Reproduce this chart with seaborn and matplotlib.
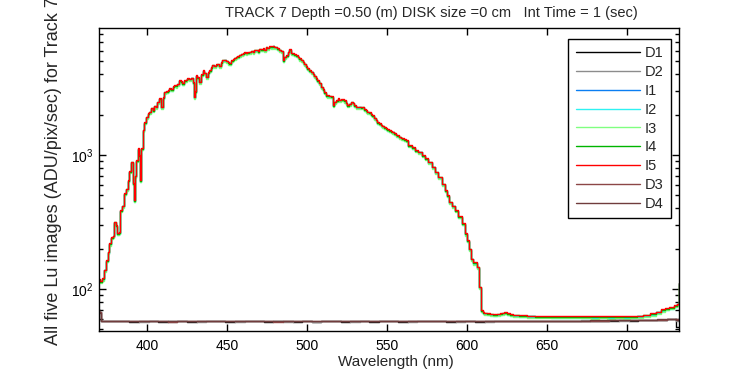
import numpy as np
import pandas as pd
import matplotlib
matplotlib.use("Agg")
import matplotlib.pyplot as plt
import seaborn as sns

# ---------------- data ----------------
series_order = ["D1", "D2", "I1", "I2", "I3", "I4", "I5", "D3", "D4"]
series_colors = ["#000000", "#8c8c8c", "#0a7ef2", "#2ef2f2", "#80ff80",
                 "#00b400", "#ff0000", "#8c4646", "#703c3c"]

# illuminated spectrum (wavelength nm, ADU/pix/sec)
spectrum = [
    (369.8, 118), (371.0, 115), (372.7, 120), (374.0, 140), (374.8, 164),
    (376.0, 190), (376.9, 219), (378.0, 245), (379.0, 250), (380.0, 318),
    (381.0, 300), (382.0, 261), (383.0, 265), (383.5, 389), (385.0, 420),
    (386.3, 518), (387.5, 560), (388.3, 650), (389.5, 760), (390.4, 891),
    (391.0, 890), (391.5, 615), (392.5, 461), (393.0, 700), (393.6, 918),
    (394.6, 1123), (395.2, 1000), (395.6, 650), (396.7, 1123), (397.7, 1540),
    (398.8, 1750), (399.8, 1932), (401.0, 2050), (401.9, 2105), (403.0, 2250),
    (404.0, 2167), (405.0, 2330), (406.0, 2292), (407.0, 2500), (408.0, 2650),
    (409.2, 2290), (410.2, 2700), (411.3, 2967), (412.5, 3000), (413.5, 3050),
    (414.4, 3145), (415.5, 3100), (416.5, 3250), (417.5, 3330), (418.5, 3300),
    (419.5, 3400), (420.6, 3630), (421.5, 3550), (422.7, 3430), (423.8, 3600),
    (424.8, 3650), (425.8, 3735), (426.8, 3700), (427.9, 3780), (429.0, 3500),
    (430.0, 2720), (430.5, 3000), (431.0, 3955), (432.0, 3800), (433.1, 3530),
    (434.2, 4000), (435.2, 4300), (436.2, 4100), (437.3, 3850), (438.4, 4150),
    (439.4, 4300), (440.4, 4500), (441.4, 4700), (442.5, 4650), (443.5, 4750),
    (444.5, 4800), (445.6, 4620), (446.6, 4900), (447.7, 5120), (448.8, 5150),
    (449.8, 5050), (450.9, 4900), (451.9, 4830), (453.0, 5100), (454.0, 5200),
    (455.0, 5300), (456.0, 5410), (457.1, 5450), (458.1, 5600), (459.2, 5700),
    (460.2, 5740), (461.2, 5850), (462.3, 5800), (463.3, 5850), (464.4, 5900),
    (465.4, 6000), (466.5, 5900), (467.5, 6100), (468.6, 6080), (469.6, 5950),
    (470.6, 6200), (471.7, 6150), (472.7, 6260), (473.8, 6100), (474.8, 6400),
    (475.8, 6300), (476.9, 6510), (478.0, 6450), (479.0, 6550), (480.0, 6400),
    (481.0, 6400), (482.0, 6250), (483.1, 6080), (484.2, 6000), (485.2, 5100),
    (486.2, 5400), (487.3, 5570), (488.4, 5900), (489.4, 6150), (490.4, 5800),
    (491.4, 5740), (492.5, 5650), (493.6, 5570), (494.6, 5400), (495.6, 5250),
    (496.7, 5120), (497.7, 4950), (498.7, 4800), (499.8, 4600), (500.8, 4450),
    (501.8, 4300), (502.9, 4190), (504.0, 4050), (505.0, 3900), (506.0, 3735),
    (507.1, 3600), (508.1, 3450), (509.2, 3235), (510.2, 3100), (511.2, 2950),
    (512.3, 2805), (513.3, 2780), (514.4, 2760), (515.4, 2750), (516.5, 2360),
    (517.5, 2500), (518.6, 2573), (519.6, 2650), (520.7, 2580), (521.7, 2620),
    (522.7, 2600), (523.8, 2550), (524.8, 2450), (525.8, 2360), (526.9, 2420),
    (527.9, 2490), (529.0, 2450), (530.0, 2350), (531.0, 2300), (532.1, 2292),
    (533.1, 2300), (534.1, 2280), (535.2, 2292), (536.2, 2200), (537.3, 2150),
    (538.3, 2105), (539.3, 2080), (540.4, 2020), (541.4, 1990), (542.5, 1900),
    (543.5, 1830), (544.6, 1760), (545.6, 1725), (546.6, 1680), (547.7, 1650),
    (548.7, 1610), (549.8, 1585), (550.8, 1560), (551.8, 1530), (552.9, 1510),
    (553.9, 1495), (555.0, 1450), (556.0, 1420), (557.0, 1400), (558.1, 1370),
    (559.1, 1350), (560.1, 1330), (561.2, 1310), (562.3, 1294), (564.4, 1188),
    (566.5, 1140), (568.6, 1090), (570.6, 1060), (572.7, 1000), (574.8, 950),
    (576.9, 891), (579.0, 820), (581.0, 750), (583.1, 689), (585.2, 610),
    (587.3, 548), (588.3, 500), (589.4, 448), (591.5, 420), (593.5, 389),
    (595.6, 350), (597.7, 310), (599.8, 260), (600.8, 232), (601.9, 200),
    (602.9, 169), (605.0, 158), (607.1, 147), (608.1, 104), (609.2, 69.7),
    (610.2, 67.0), (611.3, 66.5), (613.3, 66.0), (615.4, 65.5), (617.5, 65.0),
    (619.6, 65.5), (621.6, 66.0), (622.7, 66.5), (623.7, 67.0), (625.8, 66.0),
    (627.9, 65.0), (630.0, 64.5), (635.0, 64.0), (640.0, 63.5), (645.0, 63.0),
    (650.0, 63.0), (655.0, 62.8), (660.0, 62.8), (665.0, 62.6), (670.0, 62.6),
    (675.0, 62.8), (680.0, 62.5), (685.0, 62.6), (690.0, 62.5), (695.0, 62.6),
    (700.0, 62.5), (704.0, 62.8), (708.0, 63.5), (712.0, 64.5), (716.5, 65.8),
    (720.0, 68.0), (723.0, 70.5), (725.0, 71.8), (728.0, 73.5), (731.0, 75.9),
    (732.0, 78.0), (732.7, 112),
]
spec_wl = [p[0] for p in spectrum]
spec_val = [p[1] for p in spectrum]

# relative level of each illuminated image compared with I5
image_gain = {"I1": 0.985, "I2": 0.975, "I3": 0.965, "I4": 0.99, "I5": 1.0}

# dark images
dark_wl = [369.8, 370.6, 371.5] + list(np.arange(374, 729, 6)) + [732.7]
D1 = [71, 68, 58.0, 57.4, 57.9, 57.6, 57.2, 57.8,
      58.1, 57.3, 57.5, 57.9, 57.1, 57.7, 58.2, 57.4,
      57.2, 57.8, 58.0, 57.4, 57.2, 57.6, 58.2, 57.3,
      57.8, 57.3, 57.9, 57.5, 57.1, 58.1, 57.6, 57.3,
      57.8, 58.0, 57.2, 57.7, 58.2, 57.4, 57.8, 57.3,
      58.0, 57.6, 57.2, 57.8, 58.1, 57.5, 57.7, 57.9,
      57.4, 58.2, 57.8, 57.4, 58.0, 57.9, 58.2, 57.7,
      58.2, 58.5, 58.1, 58.7, 59.0, 58.7, 59.4, 52.0]
D2 = [70, 67, 57.6, 58.1, 57.4, 57.8, 58.2, 57.3,
      57.7, 58.1, 57.2, 57.6, 58.0, 57.3, 57.8, 58.3,
      57.4, 57.2, 57.8, 58.1, 57.5, 57.9, 57.3, 57.8,
      58.2, 57.3, 57.7, 58.0, 57.4, 57.2, 58.1, 57.8,
      57.4, 57.6, 58.1, 57.3, 57.8, 57.9, 57.4, 58.3,
      57.3, 57.8, 58.2, 57.3, 57.6, 58.1, 57.9, 57.4,
      58.0, 57.6, 58.2, 57.8, 57.5, 58.4, 57.9, 58.2,
      58.4, 58.1, 58.9, 58.4, 59.2, 59.0, 59.9, 58.0]
D3 = [70, 67, 57.8, 57.5, 57.9, 57.4, 57.8, 57.6,
      57.5, 57.9, 57.3, 57.8, 57.6, 57.5, 57.9, 57.6,
      57.4, 57.8, 57.7, 57.5, 57.9, 57.3, 57.8, 57.6,
      57.5, 57.8, 57.4, 57.9, 57.6, 57.7, 57.5, 57.8,
      57.6, 57.4, 57.9, 57.7, 57.5, 57.8, 57.6, 57.9,
      57.5, 57.7, 57.8, 57.6, 57.9, 57.7, 58.0, 57.8,
      57.9, 58.1, 57.8, 58.0, 58.2, 58.0, 58.3, 58.2,
      58.4, 58.6, 58.5, 58.8, 59.0, 59.2, 59.6, 60.0]
D4 = [69, 66, 57.6, 57.8, 57.5, 57.7, 57.4, 57.9,
      57.6, 57.5, 57.8, 57.4, 57.9, 57.7, 57.5, 57.8,
      57.7, 57.6, 57.4, 57.8, 57.5, 57.9, 57.6, 57.4,
      57.8, 57.6, 57.7, 57.5, 57.9, 57.6, 57.8, 57.5,
      57.7, 57.9, 57.6, 57.8, 57.5, 57.7, 57.9, 57.6,
      57.8, 57.6, 57.9, 57.7, 57.8, 58.0, 57.9, 58.1,
      58.0, 57.9, 58.2, 58.1, 58.3, 58.2, 58.4, 58.5,
      58.6, 58.8, 58.7, 59.0, 59.3, 59.4, 59.8, 59.0]
dark_series = {"D1": D1, "D2": D2, "D3": D3, "D4": D4}

title_text = "TRACK 7 Depth =0.50 (m) DISK size =0 cm   Int Time = 1 (sec)"
x_label = "Wavelength (nm)"
y_label = "All five Lu images (ADU/pix/sec) for Track 7"
x_ticks = [400, 450, 500, 550, 600, 650, 700]

# ---------------- build long table ----------------
frames = []
for name in series_order:
    if name in dark_series:
        frames.append(pd.DataFrame({"wl": dark_wl, "val": dark_series[name], "series": name}))
    else:
        g = image_gain[name]
        frames.append(pd.DataFrame({"wl": spec_wl, "val": [v * g for v in spec_val], "series": name}))
df = pd.concat(frames, ignore_index=True)

# ---------------- plot ----------------
sns.set_style("ticks")
plt.rcParams["font.family"] = ["Liberation Sans", "DejaVu Sans"]
plt.rcParams["mathtext.fontset"] = "custom"
plt.rcParams["mathtext.rm"] = "Liberation Sans"
plt.rcParams["mathtext.default"] = "regular"

fig = plt.figure(figsize=(7.5, 3.75), dpi=100)
ax = fig.add_axes([98.7 / 750, 44 / 375, 580.6 / 750, 302.7 / 375])

sns.lineplot(data=df, x="wl", y="val", hue="series", hue_order=series_order,
             palette=series_colors, estimator=None, sort=True, lw=1.0,
             drawstyle="steps-mid", ax=ax, legend=True)

ax.set_yscale("log")
ax.set_xlim(369.8, 732.7)
ax.set_ylim(48.7, 8810)
ax.set_xticks(x_ticks)
ax.set_xticklabels([str(t) for t in x_ticks])
ax.minorticks_on()
ax.xaxis.set_minor_locator(matplotlib.ticker.NullLocator())

ax.tick_params(which="both", direction="in", top=True, right=True, labelsize=10, colors="black")
ax.tick_params(which="major", length=5, width=1)
ax.tick_params(which="minor", length=3, width=1)
ax.tick_params(axis="x", pad=6)
ax.tick_params(axis="y", pad=4)
for s in ax.spines.values():
    s.set_visible(True)
    s.set_linewidth(1)
    s.set_color("black")

ax.set_xlabel(x_label, fontsize=11)
ax.xaxis.set_label_coords(0.511, -0.079)
ax.set_ylabel(y_label, fontsize=13)
ax.yaxis.set_label_coords(-0.063, 0.528)
fig.text(0.575, 0.966, title_text, ha="center", va="center", fontsize=10.5)

handles, labels = ax.get_legend_handles_labels()
leg = ax.legend(handles, labels, loc="upper right", bbox_to_anchor=(0.9857, 0.9647),
                borderaxespad=0, frameon=True, fancybox=False, framealpha=1,
                edgecolor="black", fontsize=10.5, handlelength=4.4, handletextpad=0.35,
                labelspacing=0.33, borderpad=0.5)
leg.get_frame().set_linewidth(1)

fig.savefig("out.png", dpi=100, facecolor="white")
